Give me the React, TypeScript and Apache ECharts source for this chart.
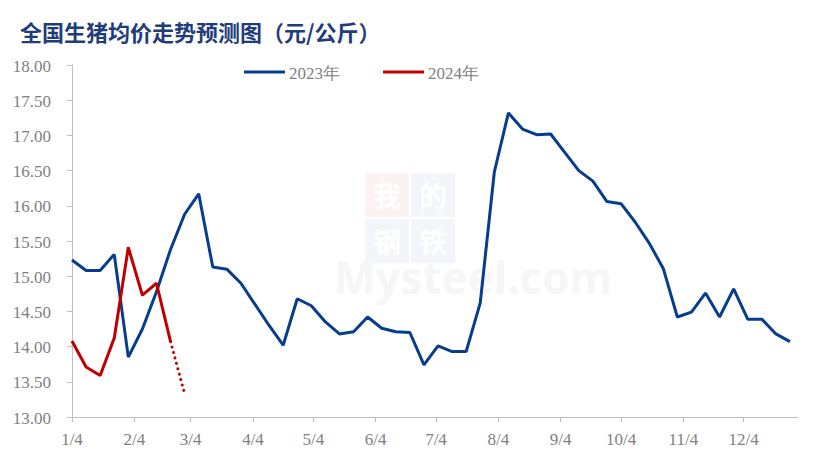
import React, { useEffect, useRef } from "react";
import * as echarts from "echarts";

// x = days since 1/4 (weekly observations)
const tickDays = [0, 31, 59, 90, 120, 151, 181, 212, 243, 273, 304, 334];
const tickLabels = ["1/4", "2/4", "3/4", "4/4", "5/4", "6/4", "7/4", "8/4", "9/4", "10/4", "11/4", "12/4"];
const yTickValues = [13, 13.5, 14, 14.5, 15, 15.5, 16, 16.5, 17, 17.5, 18];
const seriesNames = ["2023年", "2024年"];
const seriesColors = ["#063D8C", "#C00000"];

const values2023 = [
  15.23, 15.08, 15.08, 15.31, 13.85, 14.25, 14.78, 15.38, 15.88, 16.17,
  15.13, 15.10, 14.90, 14.60, 14.30, 14.02, 14.68, 14.58, 14.35, 14.18,
  14.21, 14.42, 14.26, 14.21, 14.20, 13.74, 14.01, 13.93, 13.93, 14.62,
  16.48, 17.32, 17.09, 17.01, 17.02, 16.76, 16.50, 16.35, 16.06, 16.03,
  15.77, 15.47, 15.11, 14.42, 14.49, 14.76, 14.42, 14.82, 14.39, 14.39,
  14.18, 14.07,
];
const values2024 = [14.08, 13.71, 13.59, 14.12, 15.41, 14.73, 14.90, 14.07];
const forecast2024 = [14.07, 13.33];
const forecastStartWeek = 7;

const serif = "Liberation Serif";
const grey = "#808080";

export default function App() {
  const ref = useRef<HTMLDivElement>(null);
  useEffect(() => {
    if (!ref.current) return;
    const chart = echarts.init(ref.current, null, { renderer: "svg" });
    const s2023 = values2023.map((v, i) => [i * 7, v]);
    const s2024 = values2024.map((v, i) => [i * 7, v]);
    const sF = forecast2024.map((v, i) => [(forecastStartWeek + i) * 7, v]);
    const wmChar = (t: string, x: number, y: number) => ({
      type: "text",
      x,
      y,
      silent: true,
      z: 0,
      style: { text: t, fill: "#ffffff", fontFamily: "Noto Sans CJK SC", fontSize: 28, fontWeight: "bold", align: "center", verticalAlign: "middle" },
    });
    const baseGraphic: any[] = [
      { type: "rect", shape: { x: 365, y: 173, width: 44, height: 44 }, style: { fill: "#fdf2f2" }, silent: true, z: 0 },
      { type: "rect", shape: { x: 411, y: 173, width: 44, height: 44 }, style: { fill: "#f4f5fa" }, silent: true, z: 0 },
      { type: "rect", shape: { x: 365, y: 219, width: 44, height: 44 }, style: { fill: "#f4f5fa" }, silent: true, z: 0 },
      { type: "rect", shape: { x: 411, y: 219, width: 44, height: 44 }, style: { fill: "#f4f5fa" }, silent: true, z: 0 },
      wmChar("我", 387, 195),
      wmChar("的", 433, 195),
      wmChar("钢", 387, 241),
      wmChar("铁", 433, 241),
      {
        type: "text",
        x: 334,
        y: 292,
        silent: true,
        z: 0,
        style: { text: "Mysteel.com", fill: "#f6f6f6", fontFamily: "Open Sans", fontSize: 44, lineHeight: 30, fontWeight: "bold", verticalAlign: "bottom" },
      },
      {
        type: "text",
        x: 20,
        y: 31,
        style: {
          text: "全国生猪均价走势预测图（元/公斤）",
          fill: "#1F3D7A",
          fontFamily: "Noto Sans CJK SC",
          fontSize: 22,
          fontWeight: "bold",
          verticalAlign: "middle",
        },
      },
    ];
    // legend (icon + serif text)
    const legendX = [244, 383];
    seriesNames.forEach((n, i) => {
      baseGraphic.push({
        type: "line",
        shape: { x1: legendX[i], y1: 72, x2: legendX[i] + 41, y2: 72 },
        style: { stroke: seriesColors[i], lineWidth: 3 },
      });
      baseGraphic.push({
        type: "text",
        x: legendX[i] + 45,
        y: 73,
        style: { text: n, fill: grey, fontFamily: serif, fontSize: 17, verticalAlign: "middle" },
      });
    });

    chart.setOption({
      animation: false,
      backgroundColor: "#ffffff",
      grid: { left: 72, right: 17, top: 65, bottom: 44, containLabel: false },
      graphic: baseGraphic,
      xAxis: {
        type: "value",
        min: 0,
        max: 361,
        axisLine: { show: true, lineStyle: { color: "#BFBFBF", width: 1 } },
        axisTick: { show: true, length: 5, lineStyle: { color: "#BFBFBF" }, customValues: tickDays },
        splitLine: { show: false },
        axisLabel: { show: false },
      },
      yAxis: {
        type: "value",
        min: 13,
        max: 18,
        interval: 0.5,
        axisLine: { show: true, lineStyle: { color: "#BFBFBF", width: 1 } },
        axisTick: { show: true, length: 5, lineStyle: { color: "#BFBFBF" } },
        splitLine: { show: false },
        axisLabel: { show: false },
      },
      series: [
        { name: seriesNames[0], type: "line", data: s2023, symbol: "none", lineStyle: { color: seriesColors[0], width: 3 }, itemStyle: { color: seriesColors[0] }, z: 3 },
        { name: seriesNames[1], type: "line", data: s2024, symbol: "none", lineStyle: { color: seriesColors[1], width: 3 }, itemStyle: { color: seriesColors[1] }, z: 4 },
        { name: "2024预测", type: "line", data: sF, symbol: "none", lineStyle: { color: seriesColors[1], width: 3, type: [0.1, 5.5], cap: "round" }, itemStyle: { color: seriesColors[1] }, z: 4 },
      ],
    });

    // axis labels in serif, placed through the chart's own scales
    const labels: any[] = [];
    yTickValues.forEach((v) => {
      const p = chart.convertToPixel({ gridIndex: 0 }, [0, v]) as number[];
      labels.push({
        type: "text",
        x: p[0] - 21,
        y: p[1] + 1,
        style: { text: v.toFixed(2), fill: grey, fontFamily: serif, fontSize: 17, align: "right", verticalAlign: "middle" },
      });
    });
    tickDays.forEach((d, i) => {
      const p = chart.convertToPixel({ gridIndex: 0 }, [d, 13]) as number[];
      labels.push({
        type: "text",
        x: p[0],
        y: p[1] + 22,
        style: { text: tickLabels[i], fill: grey, fontFamily: serif, fontSize: 17, align: "center", verticalAlign: "middle" },
      });
    });
    chart.setOption({ graphic: baseGraphic.concat(labels) });

    return () => chart.dispose();
  }, []);
  return <div ref={ref} style={{ width: 815, height: 461, margin: -8 }} />;
}
